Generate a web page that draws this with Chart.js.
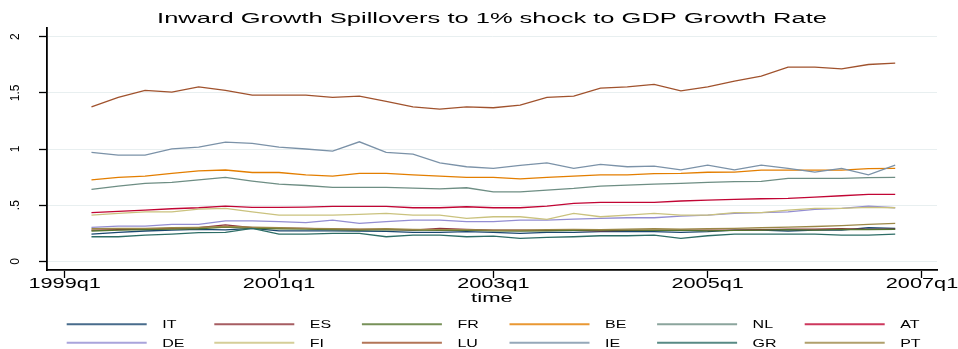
<!DOCTYPE html>
<html>
<head>
<meta charset="utf-8">
<script src="https://cdn.jsdelivr.net/npm/chart.js@4/dist/chart.umd.min.js"></script>
<style>
  html, body { margin: 0; padding: 0; background: #fff; }
  #wrap { width: 958px; height: 349px; }
</style>
</head>
<body>
<div id="wrap"><canvas id="c" width="958" height="349"></canvas></div>
<script>
// Quarters on the horizontal axis
const categories = [
  '1999q2','1999q3','1999q4',
  '2000q1','2000q2','2000q3','2000q4',
  '2001q1','2001q2','2001q3','2001q4',
  '2002q1','2002q2','2002q3','2002q4',
  '2003q1','2003q2','2003q3','2003q4',
  '2004q1','2004q2','2004q3','2004q4',
  '2005q1','2005q2','2005q3','2005q4',
  '2006q1','2006q2','2006q3','2006q4'
];
const xTickLabels = ['1999q1','2001q1','2003q1','2005q1','2007q1'];
const yTickValues = [0, 0.5, 1, 1.5, 2];
const yTickLabels = ['0', '.5', '1', '1.5', '2'];

// Inward spillover of a 1% growth shock, per country
const IT = [0.243,0.258,0.270,0.278,0.284,0.280,0.294,0.272,0.272,0.272,0.270,0.266,0.258,0.258,0.264,0.258,0.249,0.258,0.258,0.264,0.264,0.264,0.258,0.264,0.278,0.278,0.270,0.278,0.278,0.299,0.294];
const ES = [0.278,0.282,0.287,0.294,0.299,0.325,0.299,0.296,0.294,0.287,0.284,0.284,0.278,0.294,0.284,0.278,0.278,0.275,0.275,0.272,0.275,0.275,0.278,0.278,0.278,0.282,0.287,0.287,0.290,0.284,0.287];
const FR = [0.270,0.278,0.282,0.287,0.290,0.305,0.294,0.290,0.287,0.282,0.278,0.282,0.278,0.275,0.278,0.272,0.270,0.272,0.275,0.278,0.278,0.275,0.278,0.272,0.275,0.278,0.282,0.278,0.284,0.282,0.284];
const BE = [0.726,0.747,0.759,0.783,0.805,0.813,0.791,0.791,0.769,0.759,0.783,0.783,0.769,0.759,0.747,0.747,0.734,0.747,0.759,0.769,0.769,0.781,0.783,0.793,0.794,0.812,0.812,0.812,0.812,0.825,0.827];
const NL = [0.640,0.670,0.694,0.703,0.726,0.747,0.715,0.688,0.675,0.658,0.658,0.658,0.652,0.645,0.655,0.619,0.619,0.634,0.649,0.670,0.679,0.688,0.694,0.703,0.710,0.712,0.738,0.738,0.738,0.745,0.747];
const AT = [0.433,0.445,0.456,0.468,0.477,0.492,0.480,0.480,0.483,0.490,0.490,0.490,0.477,0.477,0.486,0.477,0.477,0.492,0.516,0.525,0.525,0.525,0.537,0.545,0.551,0.557,0.560,0.572,0.584,0.596,0.596];
const DE = [0.302,0.314,0.314,0.329,0.329,0.361,0.361,0.353,0.344,0.367,0.338,0.353,0.367,0.367,0.353,0.353,0.367,0.367,0.376,0.382,0.388,0.388,0.403,0.412,0.427,0.433,0.441,0.462,0.471,0.492,0.477];
const FI = [0.412,0.427,0.441,0.441,0.465,0.471,0.441,0.412,0.412,0.412,0.418,0.427,0.412,0.412,0.382,0.397,0.397,0.374,0.427,0.397,0.412,0.427,0.412,0.412,0.433,0.433,0.456,0.471,0.471,0.480,0.477];
const LU = [1.375,1.459,1.521,1.506,1.553,1.521,1.479,1.479,1.479,1.459,1.471,1.423,1.375,1.355,1.375,1.367,1.391,1.459,1.471,1.542,1.553,1.575,1.518,1.553,1.604,1.649,1.729,1.729,1.714,1.752,1.764];
const IE = [0.970,0.946,0.946,1.002,1.017,1.061,1.050,1.017,1.000,0.981,1.064,0.970,0.955,0.877,0.842,0.827,0.854,0.877,0.827,0.863,0.842,0.848,0.815,0.857,0.815,0.857,0.827,0.794,0.827,0.770,0.857];
const GR = [0.219,0.219,0.234,0.243,0.255,0.258,0.294,0.243,0.243,0.249,0.249,0.219,0.234,0.234,0.219,0.225,0.204,0.213,0.219,0.228,0.228,0.234,0.204,0.228,0.243,0.243,0.243,0.243,0.234,0.234,0.243];
const PT = [0.290,0.294,0.294,0.299,0.302,0.310,0.305,0.299,0.294,0.290,0.287,0.290,0.284,0.282,0.282,0.278,0.278,0.282,0.284,0.282,0.287,0.290,0.287,0.290,0.294,0.299,0.305,0.310,0.318,0.329,0.338];

const seriesNames = ['IT','ES','FR','BE','NL','AT','DE','FI','LU','IE','GR','PT'];
const seriesValues = [IT, ES, FR, BE, NL, AT, DE, FI, LU, IE, GR, PT];
const seriesColors = ['#1a476f','#90353b','#55752f','#e37e00','#6e8e84','#c10534',
                      '#938dd2','#cac27e','#a0522d','#7b92a8','#2d6d66','#9c8847'];

// quarter label -> quarters since 1999q1
function quarterIndex(label) {
  const [y, q] = label.split('q').map(Number);
  return (y - 1999) * 4 + (q - 1);
}

const FONT = '"Liberation Sans", Arial, Helvetica, sans-serif';

function stretchedText(ctx, text, x, y, size, sx, align) {
  ctx.save();
  ctx.font = size + 'px ' + FONT;
  ctx.fillStyle = '#000';
  ctx.textBaseline = 'alphabetic';
  ctx.translate(x, y);
  ctx.scale(sx, 1);
  ctx.textAlign = align;
  ctx.fillText(text, 0, 0);
  ctx.restore();
}

// Title, axis labels and the two-row legend
const decorations = {
  id: 'decorations',
  afterDraw(chart) {
    const ctx = chart.ctx;
    const area = chart.chartArea;
    const xs = chart.scales.x, ys = chart.scales.y;

    stretchedText(ctx, 'Inward Growth Spillovers to 1% shock to GDP Growth Rate',
      (area.left + area.right) / 2, 23.3, 14, 1.82, 'center');

    xTickLabels.forEach(t => {
      stretchedText(ctx, t, xs.getPixelForValue(quarterIndex(t)), 288.3, 14, 1.55, 'center');
    });
    stretchedText(ctx, 'time', (area.left + area.right) / 2, 301.5, 13, 1.7, 'center');

    yTickValues.forEach((v, i) => {
      ctx.save();
      ctx.font = '12px ' + FONT;
      ctx.fillStyle = '#000';
      ctx.translate(18.5, ys.getPixelForValue(v));
      ctx.rotate(-Math.PI / 2);
      ctx.textAlign = 'center';
      ctx.textBaseline = 'alphabetic';
      ctx.fillText(yTickLabels[i], 0, 0);
      ctx.restore();
    });

    // legend: 6 columns x 2 rows
    chart.data.datasets.forEach((ds, i) => {
      const col = i % 6, row = Math.floor(i / 6);
      const x0 = 66.7 + col * 147.6;
      const yLine = row === 0 ? 324.3 : 342.7;
      ctx.save();
      ctx.strokeStyle = ds.borderColor;
      ctx.globalAlpha = 0.8;
      ctx.lineWidth = 2;
      ctx.beginPath();
      ctx.moveTo(x0, yLine);
      ctx.lineTo(x0 + 80, yLine);
      ctx.stroke();
      ctx.restore();
      stretchedText(ctx, ds.label, x0 + 95.5, yLine + 4, 10, 1.6, 'left');
    });
  }
};

const datasets = seriesNames.map((name, i) => ({
  label: name,
  data: categories.map((c, j) => ({ x: quarterIndex(c), y: seriesValues[i][j] })),
  borderColor: seriesColors[i],
  backgroundColor: seriesColors[i],
  borderWidth: 1.3,
  pointRadius: 0,
  tension: 0,
  fill: false,
  order: seriesNames.length - i
}));

new Chart(document.getElementById('c'), {
  type: 'line',
  data: { datasets },
  options: {
    responsive: false,
    devicePixelRatio: 1,
    animation: false,
    layout: { padding: { top: 28, right: 21, left: 0, bottom: 0 } },
    plugins: { legend: { display: false }, title: { display: false }, tooltip: { enabled: false } },
    scales: {
      x: {
        type: 'linear',
        min: -0.66,
        max: 32.56,
        afterBuildTicks: s => { s.ticks = xTickLabels.map(t => ({ value: quarterIndex(t) })); },
        afterFit: s => { s.height = 79; },
        ticks: { display: false },
        grid: { drawOnChartArea: false, drawTicks: true, tickLength: 8, tickColor: '#000', tickWidth: 1.3 },
        border: { display: true, color: '#000', width: 1.8 }
      },
      y: {
        type: 'linear',
        min: -0.077,
        max: 2.077,
        afterBuildTicks: s => { s.ticks = yTickValues.map(v => ({ value: v })); },
        afterFit: s => { s.width = 47; },
        ticks: { display: false },
        grid: { color: '#e8eff0', lineWidth: 1, drawTicks: true, tickLength: 8, tickColor: '#000', tickWidth: 1.3 },
        border: { display: true, color: '#000', width: 1.8 }
      }
    }
  },
  plugins: [decorations]
});
</script>
</body>
</html>
